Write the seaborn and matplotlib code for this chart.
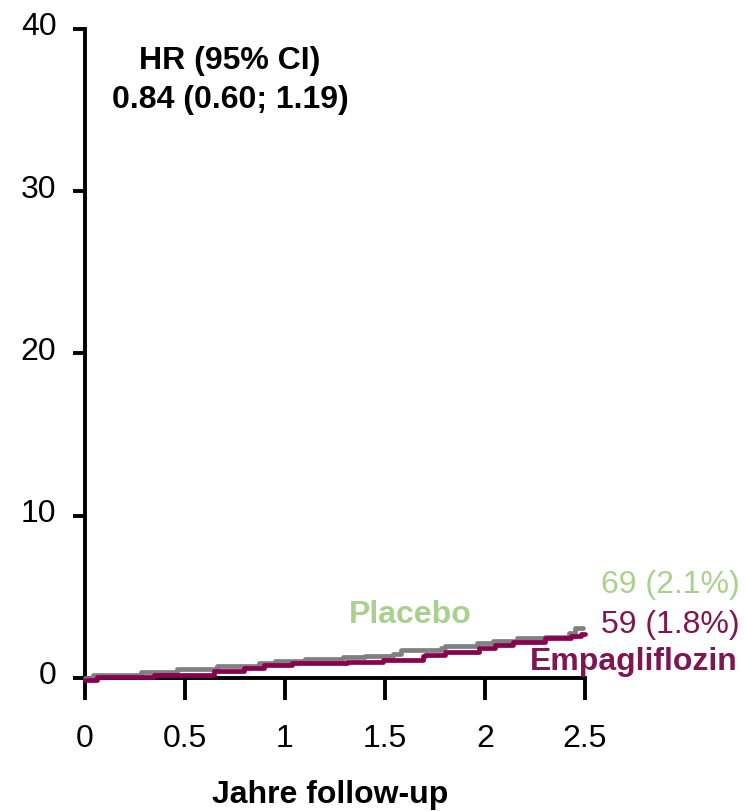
import numpy as np
import pandas as pd
import matplotlib
matplotlib.use("Agg")
import matplotlib.pyplot as plt
import matplotlib.transforms as mtransforms
import seaborn as sns

# Cumulative incidence (%) step functions, time in years
placebo_t = [0.00, 0.04, 0.28, 0.46, 0.66, 0.87, 0.95, 1.10, 1.29, 1.40, 1.54,
             1.58, 1.78, 1.80, 1.96, 2.04, 2.16, 2.30, 2.42, 2.45, 2.49]
placebo_y = [0.00, 0.16, 0.37, 0.58, 0.72, 0.93, 1.05, 1.15, 1.30, 1.36, 1.50,
             1.70, 1.85, 2.00, 2.15, 2.30, 2.45, 2.55, 2.75, 3.10, 3.10]

empa_t = [0.00, 0.06, 0.345, 0.645, 0.795, 0.895, 1.037, 1.31, 1.49, 1.69, 1.70,
          1.80, 1.97, 2.05, 2.14, 2.30, 2.43, 2.48, 2.50]
empa_y = [-0.10, 0.08, 0.20, 0.43, 0.62, 0.78, 0.92, 1.00, 1.13, 1.34, 1.42,
          1.63, 1.85, 2.05, 2.20, 2.45, 2.60, 2.72, 2.72]

groups = ["Placebo", "Empagliflozin"]
end_labels = ["69 (2.1%)", "59 (1.8%)"]
hr_lines = ["HR (95% CI)", "0.84 (0.60; 1.19)"]
x_ticks = [0, 0.5, 1, 1.5, 2, 2.5]
x_tick_labels = ["0", "0.5", "1", "1.5", "2", "2.5"]
y_ticks = [0, 10, 20, 30, 40]
x_title = "Jahre follow-up"

GREEN = "#A9D18E"
MAGENTA = "#7F1652"
LINE_MAGENTA = "#8A0050"
GRAY = "#808080"
FS = 23

sns.set_theme(style="ticks")
plt.rcParams["font.family"] = ["Liberation Sans", "DejaVu Sans"]

df = pd.concat([
    pd.DataFrame({"t": placebo_t, "y": placebo_y, "group": groups[0]}),
    pd.DataFrame({"t": empa_t, "y": empa_y, "group": groups[1]}),
])

fig = plt.figure(figsize=(7.45, 8.12), dpi=100)
ax = fig.add_axes([0.1141, 0.1638, 0.6711, 0.7993])

sns.lineplot(data=df, x="t", y="y", hue="group", hue_order=groups,
             palette={groups[0]: GRAY, groups[1]: LINE_MAGENTA},
             estimator=None, drawstyle="steps-post", linewidth=3.4,
             legend=False, ax=ax)
for line in ax.lines:
    line.set_clip_on(False)
    line.set_zorder(3)

ax.set_xlim(0, 2.5)
ax.set_ylim(0, 40)
ax.set_xticks(x_ticks)
ax.set_xticklabels(x_tick_labels)
ax.set_yticks(y_ticks)
ax.set_xlabel("")
ax.set_ylabel("")

for side in ("top", "right"):
    ax.spines[side].set_visible(False)
for side in ("left", "bottom"):
    ax.spines[side].set_linewidth(2.8)
    ax.spines[side].set_color("black")
    ax.spines[side].set_capstyle("projecting")
    ax.spines[side].set_zorder(2)
ax.tick_params(axis="x", length=15.5, width=2.8, pad=17, labelsize=FS,
               color="black", labelcolor="black")
ax.tick_params(axis="y", length=8.6, width=2.8, pad=12, labelsize=FS,
               color="black", labelcolor="black")

# y tick labels sit slightly above their ticks
lift = mtransforms.ScaledTranslation(0, 6 / 100, fig.dpi_scale_trans)
for lbl in ax.get_yticklabels():
    lbl.set_transform(lbl.get_transform() + lift)

# Hazard ratio box
ax.text(0.725, 38.1, hr_lines[0], ha="center", va="center",
        fontsize=FS, fontweight="bold", color="black")
ax.text(0.725, 35.7, hr_lines[1], ha="center", va="center",
        fontsize=FS, fontweight="bold", color="black")

# Group labels and event counts
ax.text(1.625, 3.95, groups[0], ha="center", va="center",
        fontsize=FS, fontweight="bold", color=GREEN, clip_on=False)
ax.text(3.275, 5.8, end_labels[0], ha="right", va="center",
        fontsize=FS, color=GREEN, clip_on=False)
ax.text(3.275, 3.35, end_labels[1], ha="right", va="center",
        fontsize=FS, color=MAGENTA, clip_on=False)
ax.text(3.265, 1.05, groups[1], ha="right", va="center",
        fontsize=FS, fontweight="bold", color=MAGENTA, clip_on=False)

fig.text(330 / 745, 1 - 795 / 812, x_title, ha="center", va="center",
         fontsize=FS, fontweight="bold", color="black")

fig.savefig("out.png", dpi=100, facecolor="white")
